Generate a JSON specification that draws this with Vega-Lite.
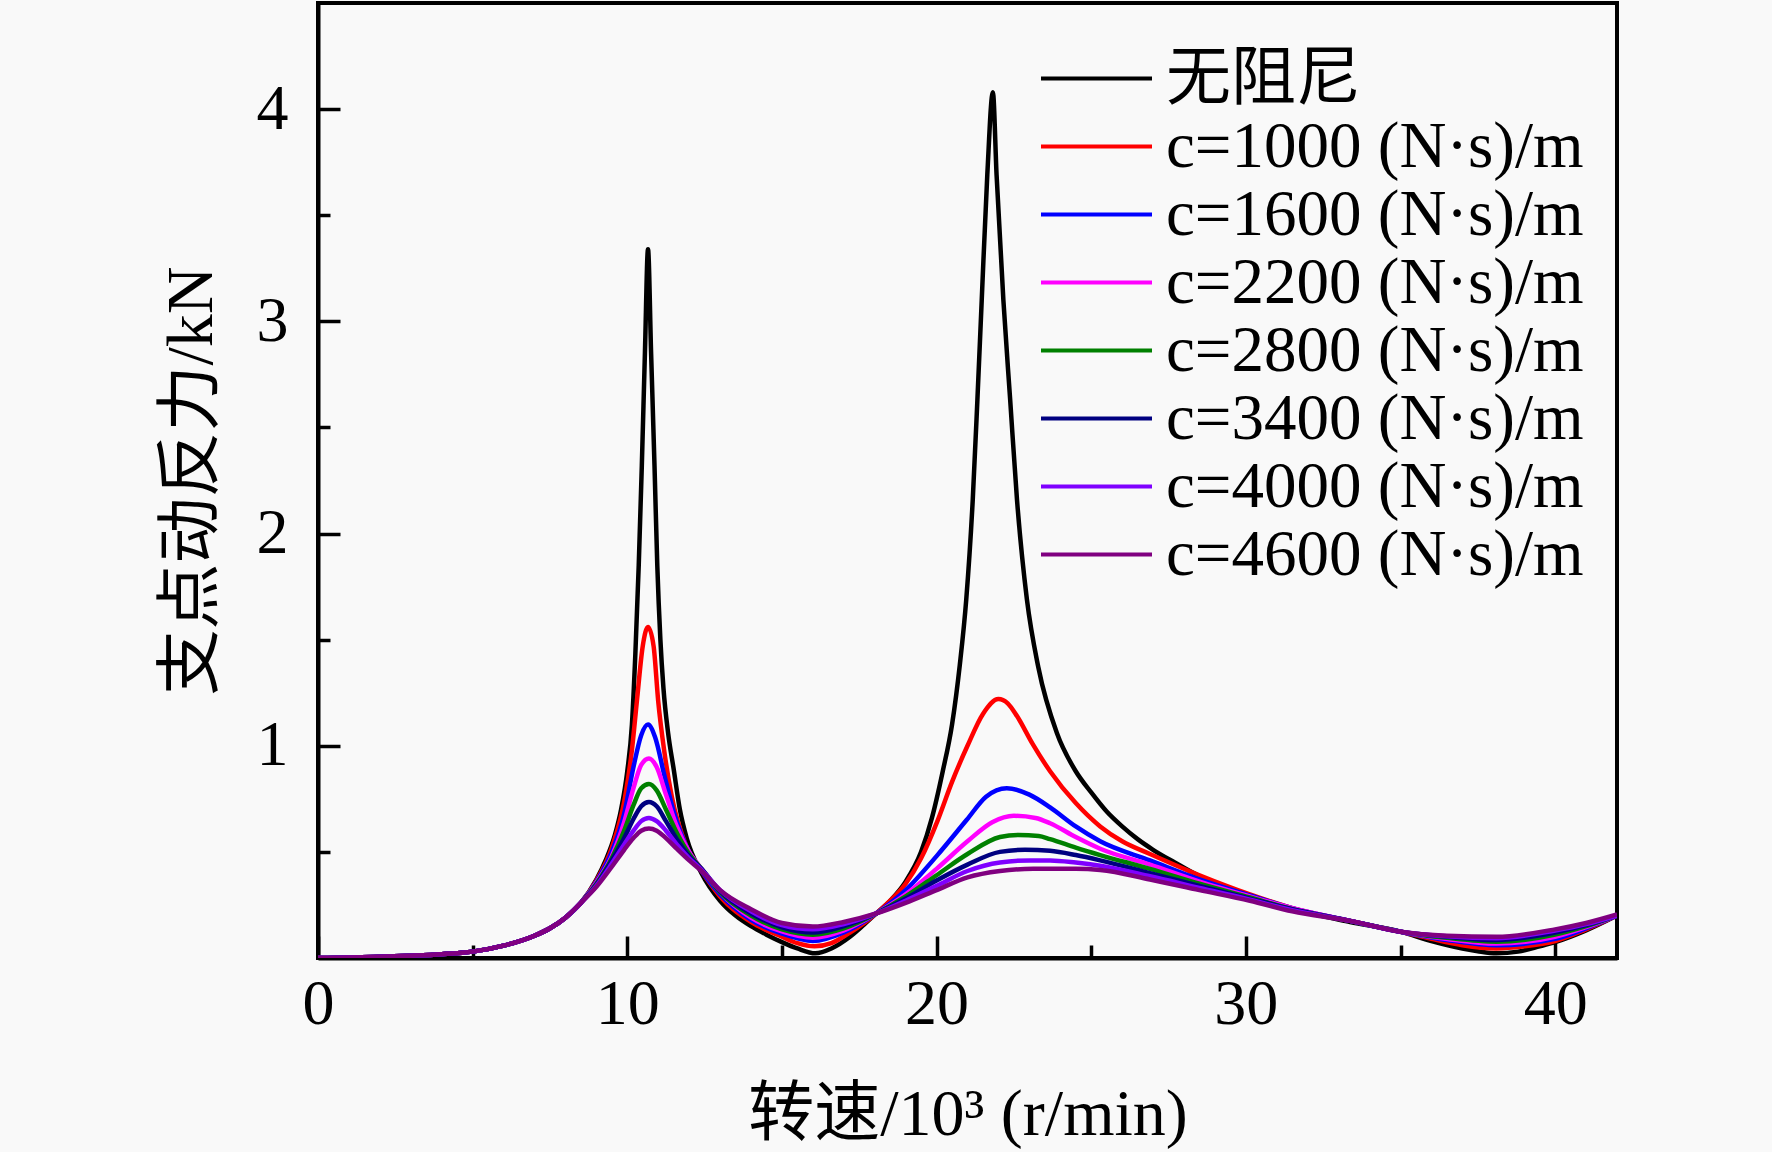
{
  "$schema": "https://vega.github.io/schema/vega-lite/v6.json",
  "width": 1299,
  "height": 955,
  "autosize": {"type": "none"},
  "padding": {"left": 318, "top": 3, "right": 155, "bottom": 194},
  "background": "#f9f9f9",
  "config": {
    "view": {"stroke": "black", "strokeWidth": 4},
    "axis": {
      "grid": false,
      "domainColor": "black",
      "domainWidth": 4,
      "tickColor": "black",
      "tickWidth": 3.5,
      "labelColor": "black",
      "labelFont": "Liberation Serif",
      "labelFontSize": 64,
      "labelFlush": false,
      "titleColor": "black",
      "titleFont": "Liberation Serif, Noto Sans CJK SC",
      "titleFontSize": 66,
      "titleFontWeight": "normal"
    }
  },
  "data": {"values": [
    {"s": "无阻尼", "x": 0, "y": 0}, {"s": "无阻尼", "x": 1, "y": 0.002}, {"s": "无阻尼", "x": 2, "y": 0.006}, {"s": "无阻尼", "x": 3, "y": 0.011}, {"s": "无阻尼", "x": 4, "y": 0.018}, {"s": "无阻尼", "x": 5, "y": 0.03}, {"s": "无阻尼", "x": 6, "y": 0.058}, {"s": "无阻尼", "x": 7, "y": 0.105}, {"s": "无阻尼", "x": 7.5, "y": 0.14}, {"s": "无阻尼", "x": 8, "y": 0.19}, {"s": "无阻尼", "x": 8.5, "y": 0.26},
    {"s": "无阻尼", "x": 9, "y": 0.37}, {"s": "无阻尼", "x": 9.3, "y": 0.46}, {"s": "无阻尼", "x": 9.6, "y": 0.58}, {"s": "无阻尼", "x": 9.8, "y": 0.7}, {"s": "无阻尼", "x": 10, "y": 0.88}, {"s": "无阻尼", "x": 10.15, "y": 1.1}, {"s": "无阻尼", "x": 10.26, "y": 1.43}, {"s": "无阻尼", "x": 10.37, "y": 1.85}, {"s": "无阻尼", "x": 10.47, "y": 2.32}, {"s": "无阻尼", "x": 10.57, "y": 2.85}, {"s": "无阻尼", "x": 10.67, "y": 3.34}, {"s": "无阻尼", "x": 10.77, "y": 2.85}, {"s": "无阻尼", "x": 10.88, "y": 2.32}, {"s": "无阻尼", "x": 10.97, "y": 1.85}, {"s": "无阻尼", "x": 11.07, "y": 1.5}, {"s": "无阻尼", "x": 11.17, "y": 1.27}, {"s": "无阻尼", "x": 11.32, "y": 1.06}, {"s": "无阻尼", "x": 11.5, "y": 0.89}, {"s": "无阻尼", "x": 11.7, "y": 0.7}, {"s": "无阻尼", "x": 11.93, "y": 0.56}, {"s": "无阻尼", "x": 12.4, "y": 0.4}, {"s": "无阻尼", "x": 13, "y": 0.27}, {"s": "无阻尼", "x": 13.5, "y": 0.2}, {"s": "无阻尼", "x": 14, "y": 0.15}, {"s": "无阻尼", "x": 14.5, "y": 0.11}, {"s": "无阻尼", "x": 15, "y": 0.075}, {"s": "无阻尼", "x": 15.5, "y": 0.045}, {"s": "无阻尼", "x": 16.08, "y": 0.022}, {"s": "无阻尼", "x": 16.6, "y": 0.045}, {"s": "无阻尼", "x": 17.2, "y": 0.1}, {"s": "无阻尼", "x": 17.6, "y": 0.15}, {"s": "无阻尼", "x": 18.05, "y": 0.21}, {"s": "无阻尼", "x": 18.5, "y": 0.27}, {"s": "无阻尼", "x": 19, "y": 0.36}, {"s": "无阻尼", "x": 19.5, "y": 0.5}, {"s": "无阻尼", "x": 19.85, "y": 0.66}, {"s": "无阻尼", "x": 20.2, "y": 0.88}, {"s": "无阻尼", "x": 20.5, "y": 1.1}, {"s": "无阻尼", "x": 20.75, "y": 1.38}, {"s": "无阻尼", "x": 20.96, "y": 1.69}, {"s": "无阻尼", "x": 21.17, "y": 2.16}, {"s": "无阻尼", "x": 21.32, "y": 2.63}, {"s": "无阻尼", "x": 21.46, "y": 3.1}, {"s": "无阻尼", "x": 21.64, "y": 3.69}, {"s": "无阻尼", "x": 21.82, "y": 4.08}, {"s": "无阻尼", "x": 21.94, "y": 3.69}, {"s": "无阻尼", "x": 22.16, "y": 3.1}, {"s": "无阻尼", "x": 22.38, "y": 2.63}, {"s": "无阻尼", "x": 22.6, "y": 2.16}, {"s": "无阻尼", "x": 22.92, "y": 1.69}, {"s": "无阻尼", "x": 23.29, "y": 1.37}, {"s": "无阻尼", "x": 23.89, "y": 1.06}, {"s": "无阻尼", "x": 24.5, "y": 0.88}, {"s": "无阻尼", "x": 25, "y": 0.78}, {"s": "无阻尼", "x": 25.5, "y": 0.69}, {"s": "无阻尼", "x": 26, "y": 0.62}, {"s": "无阻尼", "x": 26.5, "y": 0.56}, {"s": "无阻尼", "x": 27, "y": 0.51}, {"s": "无阻尼", "x": 27.7, "y": 0.45}, {"s": "无阻尼", "x": 28.5, "y": 0.385}, {"s": "无阻尼", "x": 30.13, "y": 0.29}, {"s": "无阻尼", "x": 31.5, "y": 0.23}, {"s": "无阻尼", "x": 33.37, "y": 0.17}, {"s": "无阻尼", "x": 35, "y": 0.124}, {"s": "无阻尼", "x": 36, "y": 0.08}, {"s": "无阻尼", "x": 37, "y": 0.045}, {"s": "无阻尼", "x": 37.5, "y": 0.032}, {"s": "无阻尼", "x": 38.1, "y": 0.022}, {"s": "无阻尼", "x": 38.8, "y": 0.03}, {"s": "无阻尼", "x": 39.5, "y": 0.055}, {"s": "无阻尼", "x": 40, "y": 0.075}, {"s": "无阻尼", "x": 41, "y": 0.13}, {"s": "无阻尼", "x": 42, "y": 0.2},

    {"s": "c=1000 (N·s)/m", "x": 0, "y": 0}, {"s": "c=1000 (N·s)/m", "x": 1, "y": 0.002}, {"s": "c=1000 (N·s)/m", "x": 2, "y": 0.006}, {"s": "c=1000 (N·s)/m", "x": 3, "y": 0.011}, {"s": "c=1000 (N·s)/m", "x": 4, "y": 0.018}, {"s": "c=1000 (N·s)/m", "x": 5, "y": 0.03}, {"s": "c=1000 (N·s)/m", "x": 6, "y": 0.058}, {"s": "c=1000 (N·s)/m", "x": 7, "y": 0.105}, {"s": "c=1000 (N·s)/m", "x": 7.5, "y": 0.14}, {"s": "c=1000 (N·s)/m", "x": 8, "y": 0.19}, {"s": "c=1000 (N·s)/m", "x": 8.5, "y": 0.26},
    {"s": "c=1000 (N·s)/m", "x": 9, "y": 0.365}, {"s": "c=1000 (N·s)/m", "x": 9.5, "y": 0.52}, {"s": "c=1000 (N·s)/m", "x": 9.93, "y": 0.76}, {"s": "c=1000 (N·s)/m", "x": 10.15, "y": 0.98}, {"s": "c=1000 (N·s)/m", "x": 10.31, "y": 1.21}, {"s": "c=1000 (N·s)/m", "x": 10.5, "y": 1.47}, {"s": "c=1000 (N·s)/m", "x": 10.67, "y": 1.56}, {"s": "c=1000 (N·s)/m", "x": 10.85, "y": 1.47}, {"s": "c=1000 (N·s)/m", "x": 11, "y": 1.21}, {"s": "c=1000 (N·s)/m", "x": 11.2, "y": 0.97}, {"s": "c=1000 (N·s)/m", "x": 11.44, "y": 0.76}, {"s": "c=1000 (N·s)/m", "x": 11.9, "y": 0.53}, {"s": "c=1000 (N·s)/m", "x": 12.4, "y": 0.41}, {"s": "c=1000 (N·s)/m", "x": 13, "y": 0.29}, {"s": "c=1000 (N·s)/m", "x": 14, "y": 0.17}, {"s": "c=1000 (N·s)/m", "x": 15, "y": 0.1}, {"s": "c=1000 (N·s)/m", "x": 15.5, "y": 0.07}, {"s": "c=1000 (N·s)/m", "x": 16.05, "y": 0.055}, {"s": "c=1000 (N·s)/m", "x": 16.6, "y": 0.07}, {"s": "c=1000 (N·s)/m", "x": 17.2, "y": 0.12}, {"s": "c=1000 (N·s)/m", "x": 18.05, "y": 0.21}, {"s": "c=1000 (N·s)/m", "x": 18.5, "y": 0.27}, {"s": "c=1000 (N·s)/m", "x": 19, "y": 0.35}, {"s": "c=1000 (N·s)/m", "x": 19.5, "y": 0.47}, {"s": "c=1000 (N·s)/m", "x": 20.04, "y": 0.65}, {"s": "c=1000 (N·s)/m", "x": 20.5, "y": 0.83}, {"s": "c=1000 (N·s)/m", "x": 21, "y": 1.0}, {"s": "c=1000 (N·s)/m", "x": 21.5, "y": 1.15}, {"s": "c=1000 (N·s)/m", "x": 22, "y": 1.22}, {"s": "c=1000 (N·s)/m", "x": 22.3, "y": 1.2}, {"s": "c=1000 (N·s)/m", "x": 22.6, "y": 1.14}, {"s": "c=1000 (N·s)/m", "x": 23.1, "y": 1.01}, {"s": "c=1000 (N·s)/m", "x": 23.67, "y": 0.88}, {"s": "c=1000 (N·s)/m", "x": 24.5, "y": 0.73}, {"s": "c=1000 (N·s)/m", "x": 25.29, "y": 0.62}, {"s": "c=1000 (N·s)/m", "x": 26, "y": 0.55}, {"s": "c=1000 (N·s)/m", "x": 26.9, "y": 0.49}, {"s": "c=1000 (N·s)/m", "x": 28.5, "y": 0.39}, {"s": "c=1000 (N·s)/m", "x": 30.13, "y": 0.3}, {"s": "c=1000 (N·s)/m", "x": 31.5, "y": 0.235}, {"s": "c=1000 (N·s)/m", "x": 33.37, "y": 0.175}, {"s": "c=1000 (N·s)/m", "x": 35, "y": 0.124}, {"s": "c=1000 (N·s)/m", "x": 36, "y": 0.09}, {"s": "c=1000 (N·s)/m", "x": 37, "y": 0.06}, {"s": "c=1000 (N·s)/m", "x": 38.1, "y": 0.045}, {"s": "c=1000 (N·s)/m", "x": 39, "y": 0.055}, {"s": "c=1000 (N·s)/m", "x": 40, "y": 0.08}, {"s": "c=1000 (N·s)/m", "x": 41, "y": 0.135}, {"s": "c=1000 (N·s)/m", "x": 42, "y": 0.2},

    {"s": "c=1600 (N·s)/m", "x": 0, "y": 0}, {"s": "c=1600 (N·s)/m", "x": 1, "y": 0.002}, {"s": "c=1600 (N·s)/m", "x": 2, "y": 0.006}, {"s": "c=1600 (N·s)/m", "x": 3, "y": 0.011}, {"s": "c=1600 (N·s)/m", "x": 4, "y": 0.018}, {"s": "c=1600 (N·s)/m", "x": 5, "y": 0.03}, {"s": "c=1600 (N·s)/m", "x": 6, "y": 0.058}, {"s": "c=1600 (N·s)/m", "x": 7, "y": 0.105}, {"s": "c=1600 (N·s)/m", "x": 7.5, "y": 0.14}, {"s": "c=1600 (N·s)/m", "x": 8, "y": 0.19}, {"s": "c=1600 (N·s)/m", "x": 8.5, "y": 0.26},
    {"s": "c=1600 (N·s)/m", "x": 9, "y": 0.36}, {"s": "c=1600 (N·s)/m", "x": 9.5, "y": 0.5}, {"s": "c=1600 (N·s)/m", "x": 9.9, "y": 0.68}, {"s": "c=1600 (N·s)/m", "x": 10.2, "y": 0.9}, {"s": "c=1600 (N·s)/m", "x": 10.45, "y": 1.05}, {"s": "c=1600 (N·s)/m", "x": 10.67, "y": 1.1}, {"s": "c=1600 (N·s)/m", "x": 10.9, "y": 1.04}, {"s": "c=1600 (N·s)/m", "x": 11.2, "y": 0.86}, {"s": "c=1600 (N·s)/m", "x": 11.5, "y": 0.69}, {"s": "c=1600 (N·s)/m", "x": 12, "y": 0.5}, {"s": "c=1600 (N·s)/m", "x": 12.4, "y": 0.41}, {"s": "c=1600 (N·s)/m", "x": 13, "y": 0.3}, {"s": "c=1600 (N·s)/m", "x": 14, "y": 0.18}, {"s": "c=1600 (N·s)/m", "x": 15, "y": 0.115}, {"s": "c=1600 (N·s)/m", "x": 16, "y": 0.08}, {"s": "c=1600 (N·s)/m", "x": 17, "y": 0.12}, {"s": "c=1600 (N·s)/m", "x": 18.05, "y": 0.21}, {"s": "c=1600 (N·s)/m", "x": 19, "y": 0.32}, {"s": "c=1600 (N·s)/m", "x": 20, "y": 0.48}, {"s": "c=1600 (N·s)/m", "x": 20.97, "y": 0.65}, {"s": "c=1600 (N·s)/m", "x": 21.6, "y": 0.76}, {"s": "c=1600 (N·s)/m", "x": 22.27, "y": 0.8}, {"s": "c=1600 (N·s)/m", "x": 23, "y": 0.77}, {"s": "c=1600 (N·s)/m", "x": 23.67, "y": 0.71}, {"s": "c=1600 (N·s)/m", "x": 24.5, "y": 0.62}, {"s": "c=1600 (N·s)/m", "x": 25.29, "y": 0.55}, {"s": "c=1600 (N·s)/m", "x": 26.9, "y": 0.46}, {"s": "c=1600 (N·s)/m", "x": 28.5, "y": 0.37}, {"s": "c=1600 (N·s)/m", "x": 30.13, "y": 0.295}, {"s": "c=1600 (N·s)/m", "x": 31.5, "y": 0.235}, {"s": "c=1600 (N·s)/m", "x": 33.37, "y": 0.175}, {"s": "c=1600 (N·s)/m", "x": 35, "y": 0.124}, {"s": "c=1600 (N·s)/m", "x": 36.5, "y": 0.085}, {"s": "c=1600 (N·s)/m", "x": 38.1, "y": 0.06}, {"s": "c=1600 (N·s)/m", "x": 40, "y": 0.09}, {"s": "c=1600 (N·s)/m", "x": 41, "y": 0.14}, {"s": "c=1600 (N·s)/m", "x": 42, "y": 0.2},

    {"s": "c=2200 (N·s)/m", "x": 0, "y": 0}, {"s": "c=2200 (N·s)/m", "x": 1, "y": 0.002}, {"s": "c=2200 (N·s)/m", "x": 2, "y": 0.006}, {"s": "c=2200 (N·s)/m", "x": 3, "y": 0.011}, {"s": "c=2200 (N·s)/m", "x": 4, "y": 0.018}, {"s": "c=2200 (N·s)/m", "x": 5, "y": 0.03}, {"s": "c=2200 (N·s)/m", "x": 6, "y": 0.058}, {"s": "c=2200 (N·s)/m", "x": 7, "y": 0.105}, {"s": "c=2200 (N·s)/m", "x": 7.5, "y": 0.14}, {"s": "c=2200 (N·s)/m", "x": 8, "y": 0.19}, {"s": "c=2200 (N·s)/m", "x": 8.5, "y": 0.26},
    {"s": "c=2200 (N·s)/m", "x": 9, "y": 0.355}, {"s": "c=2200 (N·s)/m", "x": 9.5, "y": 0.48}, {"s": "c=2200 (N·s)/m", "x": 9.9, "y": 0.64}, {"s": "c=2200 (N·s)/m", "x": 10.2, "y": 0.8}, {"s": "c=2200 (N·s)/m", "x": 10.45, "y": 0.91}, {"s": "c=2200 (N·s)/m", "x": 10.7, "y": 0.94}, {"s": "c=2200 (N·s)/m", "x": 10.95, "y": 0.9}, {"s": "c=2200 (N·s)/m", "x": 11.25, "y": 0.77}, {"s": "c=2200 (N·s)/m", "x": 11.6, "y": 0.62}, {"s": "c=2200 (N·s)/m", "x": 12, "y": 0.5}, {"s": "c=2200 (N·s)/m", "x": 12.4, "y": 0.42}, {"s": "c=2200 (N·s)/m", "x": 13, "y": 0.31}, {"s": "c=2200 (N·s)/m", "x": 14, "y": 0.19}, {"s": "c=2200 (N·s)/m", "x": 15, "y": 0.125}, {"s": "c=2200 (N·s)/m", "x": 16, "y": 0.095}, {"s": "c=2200 (N·s)/m", "x": 17, "y": 0.13}, {"s": "c=2200 (N·s)/m", "x": 18.05, "y": 0.21}, {"s": "c=2200 (N·s)/m", "x": 19, "y": 0.3}, {"s": "c=2200 (N·s)/m", "x": 20, "y": 0.42}, {"s": "c=2200 (N·s)/m", "x": 21, "y": 0.55}, {"s": "c=2200 (N·s)/m", "x": 21.8, "y": 0.64}, {"s": "c=2200 (N·s)/m", "x": 22.5, "y": 0.67}, {"s": "c=2200 (N·s)/m", "x": 23.2, "y": 0.66}, {"s": "c=2200 (N·s)/m", "x": 23.67, "y": 0.635}, {"s": "c=2200 (N·s)/m", "x": 24.5, "y": 0.57}, {"s": "c=2200 (N·s)/m", "x": 25.29, "y": 0.515}, {"s": "c=2200 (N·s)/m", "x": 26.9, "y": 0.44}, {"s": "c=2200 (N·s)/m", "x": 28.5, "y": 0.36}, {"s": "c=2200 (N·s)/m", "x": 30.13, "y": 0.29}, {"s": "c=2200 (N·s)/m", "x": 31.5, "y": 0.235}, {"s": "c=2200 (N·s)/m", "x": 33.37, "y": 0.175}, {"s": "c=2200 (N·s)/m", "x": 35, "y": 0.124}, {"s": "c=2200 (N·s)/m", "x": 36.5, "y": 0.09}, {"s": "c=2200 (N·s)/m", "x": 38.1, "y": 0.068}, {"s": "c=2200 (N·s)/m", "x": 40, "y": 0.1}, {"s": "c=2200 (N·s)/m", "x": 41, "y": 0.145}, {"s": "c=2200 (N·s)/m", "x": 42, "y": 0.2},

    {"s": "c=2800 (N·s)/m", "x": 0, "y": 0}, {"s": "c=2800 (N·s)/m", "x": 1, "y": 0.002}, {"s": "c=2800 (N·s)/m", "x": 2, "y": 0.006}, {"s": "c=2800 (N·s)/m", "x": 3, "y": 0.011}, {"s": "c=2800 (N·s)/m", "x": 4, "y": 0.018}, {"s": "c=2800 (N·s)/m", "x": 5, "y": 0.03}, {"s": "c=2800 (N·s)/m", "x": 6, "y": 0.058}, {"s": "c=2800 (N·s)/m", "x": 7, "y": 0.105}, {"s": "c=2800 (N·s)/m", "x": 7.5, "y": 0.14}, {"s": "c=2800 (N·s)/m", "x": 8, "y": 0.19}, {"s": "c=2800 (N·s)/m", "x": 8.5, "y": 0.26},
    {"s": "c=2800 (N·s)/m", "x": 9, "y": 0.35}, {"s": "c=2800 (N·s)/m", "x": 9.5, "y": 0.47}, {"s": "c=2800 (N·s)/m", "x": 9.9, "y": 0.6}, {"s": "c=2800 (N·s)/m", "x": 10.2, "y": 0.72}, {"s": "c=2800 (N·s)/m", "x": 10.45, "y": 0.8}, {"s": "c=2800 (N·s)/m", "x": 10.7, "y": 0.82}, {"s": "c=2800 (N·s)/m", "x": 10.95, "y": 0.79}, {"s": "c=2800 (N·s)/m", "x": 11.25, "y": 0.7}, {"s": "c=2800 (N·s)/m", "x": 11.6, "y": 0.59}, {"s": "c=2800 (N·s)/m", "x": 12, "y": 0.49}, {"s": "c=2800 (N·s)/m", "x": 12.4, "y": 0.42}, {"s": "c=2800 (N·s)/m", "x": 13, "y": 0.31}, {"s": "c=2800 (N·s)/m", "x": 14, "y": 0.2}, {"s": "c=2800 (N·s)/m", "x": 15, "y": 0.135}, {"s": "c=2800 (N·s)/m", "x": 16, "y": 0.11}, {"s": "c=2800 (N·s)/m", "x": 17, "y": 0.14}, {"s": "c=2800 (N·s)/m", "x": 18.05, "y": 0.21}, {"s": "c=2800 (N·s)/m", "x": 19, "y": 0.29}, {"s": "c=2800 (N·s)/m", "x": 20, "y": 0.39}, {"s": "c=2800 (N·s)/m", "x": 21, "y": 0.49}, {"s": "c=2800 (N·s)/m", "x": 22.05, "y": 0.57}, {"s": "c=2800 (N·s)/m", "x": 22.65, "y": 0.58}, {"s": "c=2800 (N·s)/m", "x": 23.3, "y": 0.575}, {"s": "c=2800 (N·s)/m", "x": 23.67, "y": 0.56}, {"s": "c=2800 (N·s)/m", "x": 24.5, "y": 0.52}, {"s": "c=2800 (N·s)/m", "x": 25.29, "y": 0.485}, {"s": "c=2800 (N·s)/m", "x": 26.9, "y": 0.42}, {"s": "c=2800 (N·s)/m", "x": 28.5, "y": 0.35}, {"s": "c=2800 (N·s)/m", "x": 30.13, "y": 0.285}, {"s": "c=2800 (N·s)/m", "x": 31.5, "y": 0.23}, {"s": "c=2800 (N·s)/m", "x": 33.37, "y": 0.175}, {"s": "c=2800 (N·s)/m", "x": 35, "y": 0.124}, {"s": "c=2800 (N·s)/m", "x": 36.5, "y": 0.095}, {"s": "c=2800 (N·s)/m", "x": 38.1, "y": 0.077}, {"s": "c=2800 (N·s)/m", "x": 40, "y": 0.11}, {"s": "c=2800 (N·s)/m", "x": 41, "y": 0.15}, {"s": "c=2800 (N·s)/m", "x": 42, "y": 0.2},

    {"s": "c=3400 (N·s)/m", "x": 0, "y": 0}, {"s": "c=3400 (N·s)/m", "x": 1, "y": 0.002}, {"s": "c=3400 (N·s)/m", "x": 2, "y": 0.006}, {"s": "c=3400 (N·s)/m", "x": 3, "y": 0.011}, {"s": "c=3400 (N·s)/m", "x": 4, "y": 0.018}, {"s": "c=3400 (N·s)/m", "x": 5, "y": 0.03}, {"s": "c=3400 (N·s)/m", "x": 6, "y": 0.058}, {"s": "c=3400 (N·s)/m", "x": 7, "y": 0.105}, {"s": "c=3400 (N·s)/m", "x": 7.5, "y": 0.14}, {"s": "c=3400 (N·s)/m", "x": 8, "y": 0.19}, {"s": "c=3400 (N·s)/m", "x": 8.5, "y": 0.26},
    {"s": "c=3400 (N·s)/m", "x": 9, "y": 0.345}, {"s": "c=3400 (N·s)/m", "x": 9.5, "y": 0.46}, {"s": "c=3400 (N·s)/m", "x": 9.9, "y": 0.565}, {"s": "c=3400 (N·s)/m", "x": 10.2, "y": 0.655}, {"s": "c=3400 (N·s)/m", "x": 10.45, "y": 0.715}, {"s": "c=3400 (N·s)/m", "x": 10.7, "y": 0.735}, {"s": "c=3400 (N·s)/m", "x": 10.95, "y": 0.715}, {"s": "c=3400 (N·s)/m", "x": 11.25, "y": 0.645}, {"s": "c=3400 (N·s)/m", "x": 11.6, "y": 0.56}, {"s": "c=3400 (N·s)/m", "x": 12, "y": 0.48}, {"s": "c=3400 (N·s)/m", "x": 12.4, "y": 0.42}, {"s": "c=3400 (N·s)/m", "x": 13, "y": 0.315}, {"s": "c=3400 (N·s)/m", "x": 14, "y": 0.21}, {"s": "c=3400 (N·s)/m", "x": 15, "y": 0.145}, {"s": "c=3400 (N·s)/m", "x": 16, "y": 0.12}, {"s": "c=3400 (N·s)/m", "x": 17, "y": 0.15}, {"s": "c=3400 (N·s)/m", "x": 18.05, "y": 0.21}, {"s": "c=3400 (N·s)/m", "x": 19, "y": 0.28}, {"s": "c=3400 (N·s)/m", "x": 20, "y": 0.365}, {"s": "c=3400 (N·s)/m", "x": 21, "y": 0.44}, {"s": "c=3400 (N·s)/m", "x": 22.05, "y": 0.5}, {"s": "c=3400 (N·s)/m", "x": 22.86, "y": 0.51}, {"s": "c=3400 (N·s)/m", "x": 23.67, "y": 0.505}, {"s": "c=3400 (N·s)/m", "x": 24.5, "y": 0.485}, {"s": "c=3400 (N·s)/m", "x": 25.29, "y": 0.46}, {"s": "c=3400 (N·s)/m", "x": 26.9, "y": 0.4}, {"s": "c=3400 (N·s)/m", "x": 28.5, "y": 0.34}, {"s": "c=3400 (N·s)/m", "x": 30.13, "y": 0.28}, {"s": "c=3400 (N·s)/m", "x": 31.5, "y": 0.23}, {"s": "c=3400 (N·s)/m", "x": 33.37, "y": 0.175}, {"s": "c=3400 (N·s)/m", "x": 35, "y": 0.124}, {"s": "c=3400 (N·s)/m", "x": 36.5, "y": 0.1}, {"s": "c=3400 (N·s)/m", "x": 38.1, "y": 0.085}, {"s": "c=3400 (N·s)/m", "x": 40, "y": 0.12}, {"s": "c=3400 (N·s)/m", "x": 41, "y": 0.155}, {"s": "c=3400 (N·s)/m", "x": 42, "y": 0.2},

    {"s": "c=4000 (N·s)/m", "x": 0, "y": 0}, {"s": "c=4000 (N·s)/m", "x": 1, "y": 0.002}, {"s": "c=4000 (N·s)/m", "x": 2, "y": 0.006}, {"s": "c=4000 (N·s)/m", "x": 3, "y": 0.011}, {"s": "c=4000 (N·s)/m", "x": 4, "y": 0.018}, {"s": "c=4000 (N·s)/m", "x": 5, "y": 0.03}, {"s": "c=4000 (N·s)/m", "x": 6, "y": 0.058}, {"s": "c=4000 (N·s)/m", "x": 7, "y": 0.105}, {"s": "c=4000 (N·s)/m", "x": 7.5, "y": 0.14}, {"s": "c=4000 (N·s)/m", "x": 8, "y": 0.19}, {"s": "c=4000 (N·s)/m", "x": 8.5, "y": 0.26},
    {"s": "c=4000 (N·s)/m", "x": 9, "y": 0.34}, {"s": "c=4000 (N·s)/m", "x": 9.5, "y": 0.445}, {"s": "c=4000 (N·s)/m", "x": 9.9, "y": 0.535}, {"s": "c=4000 (N·s)/m", "x": 10.2, "y": 0.6}, {"s": "c=4000 (N·s)/m", "x": 10.45, "y": 0.645}, {"s": "c=4000 (N·s)/m", "x": 10.7, "y": 0.66}, {"s": "c=4000 (N·s)/m", "x": 10.95, "y": 0.645}, {"s": "c=4000 (N·s)/m", "x": 11.25, "y": 0.6}, {"s": "c=4000 (N·s)/m", "x": 11.6, "y": 0.535}, {"s": "c=4000 (N·s)/m", "x": 12, "y": 0.47}, {"s": "c=4000 (N·s)/m", "x": 12.4, "y": 0.415}, {"s": "c=4000 (N·s)/m", "x": 13, "y": 0.32}, {"s": "c=4000 (N·s)/m", "x": 14, "y": 0.22}, {"s": "c=4000 (N·s)/m", "x": 15, "y": 0.155}, {"s": "c=4000 (N·s)/m", "x": 16, "y": 0.135}, {"s": "c=4000 (N·s)/m", "x": 17, "y": 0.16}, {"s": "c=4000 (N·s)/m", "x": 18.05, "y": 0.21}, {"s": "c=4000 (N·s)/m", "x": 19, "y": 0.27}, {"s": "c=4000 (N·s)/m", "x": 20, "y": 0.34}, {"s": "c=4000 (N·s)/m", "x": 21, "y": 0.41}, {"s": "c=4000 (N·s)/m", "x": 22.05, "y": 0.45}, {"s": "c=4000 (N·s)/m", "x": 23.03, "y": 0.46}, {"s": "c=4000 (N·s)/m", "x": 23.67, "y": 0.46}, {"s": "c=4000 (N·s)/m", "x": 24.5, "y": 0.45}, {"s": "c=4000 (N·s)/m", "x": 25.29, "y": 0.435}, {"s": "c=4000 (N·s)/m", "x": 26.9, "y": 0.385}, {"s": "c=4000 (N·s)/m", "x": 28.5, "y": 0.33}, {"s": "c=4000 (N·s)/m", "x": 30.13, "y": 0.275}, {"s": "c=4000 (N·s)/m", "x": 31.5, "y": 0.225}, {"s": "c=4000 (N·s)/m", "x": 33.37, "y": 0.175}, {"s": "c=4000 (N·s)/m", "x": 35, "y": 0.124}, {"s": "c=4000 (N·s)/m", "x": 36.5, "y": 0.102}, {"s": "c=4000 (N·s)/m", "x": 38.1, "y": 0.093}, {"s": "c=4000 (N·s)/m", "x": 40, "y": 0.13}, {"s": "c=4000 (N·s)/m", "x": 41, "y": 0.16}, {"s": "c=4000 (N·s)/m", "x": 42, "y": 0.2},

    {"s": "c=4600 (N·s)/m", "x": 0, "y": 0}, {"s": "c=4600 (N·s)/m", "x": 1, "y": 0.002}, {"s": "c=4600 (N·s)/m", "x": 2, "y": 0.006}, {"s": "c=4600 (N·s)/m", "x": 3, "y": 0.011}, {"s": "c=4600 (N·s)/m", "x": 4, "y": 0.018}, {"s": "c=4600 (N·s)/m", "x": 5, "y": 0.03}, {"s": "c=4600 (N·s)/m", "x": 6, "y": 0.058}, {"s": "c=4600 (N·s)/m", "x": 7, "y": 0.105}, {"s": "c=4600 (N·s)/m", "x": 7.5, "y": 0.14}, {"s": "c=4600 (N·s)/m", "x": 8, "y": 0.19}, {"s": "c=4600 (N·s)/m", "x": 8.5, "y": 0.26},
    {"s": "c=4600 (N·s)/m", "x": 9, "y": 0.335}, {"s": "c=4600 (N·s)/m", "x": 9.5, "y": 0.43}, {"s": "c=4600 (N·s)/m", "x": 9.9, "y": 0.51}, {"s": "c=4600 (N·s)/m", "x": 10.2, "y": 0.565}, {"s": "c=4600 (N·s)/m", "x": 10.45, "y": 0.6}, {"s": "c=4600 (N·s)/m", "x": 10.7, "y": 0.61}, {"s": "c=4600 (N·s)/m", "x": 10.95, "y": 0.6}, {"s": "c=4600 (N·s)/m", "x": 11.25, "y": 0.565}, {"s": "c=4600 (N·s)/m", "x": 11.6, "y": 0.515}, {"s": "c=4600 (N·s)/m", "x": 12, "y": 0.46}, {"s": "c=4600 (N·s)/m", "x": 12.4, "y": 0.41}, {"s": "c=4600 (N·s)/m", "x": 13, "y": 0.32}, {"s": "c=4600 (N·s)/m", "x": 14, "y": 0.23}, {"s": "c=4600 (N·s)/m", "x": 15, "y": 0.165}, {"s": "c=4600 (N·s)/m", "x": 16, "y": 0.148}, {"s": "c=4600 (N·s)/m", "x": 17, "y": 0.17}, {"s": "c=4600 (N·s)/m", "x": 18.05, "y": 0.21}, {"s": "c=4600 (N·s)/m", "x": 19, "y": 0.26}, {"s": "c=4600 (N·s)/m", "x": 20, "y": 0.32}, {"s": "c=4600 (N·s)/m", "x": 21, "y": 0.38}, {"s": "c=4600 (N·s)/m", "x": 22.05, "y": 0.41}, {"s": "c=4600 (N·s)/m", "x": 23.13, "y": 0.42}, {"s": "c=4600 (N·s)/m", "x": 23.67, "y": 0.42}, {"s": "c=4600 (N·s)/m", "x": 24.5, "y": 0.42}, {"s": "c=4600 (N·s)/m", "x": 25.29, "y": 0.415}, {"s": "c=4600 (N·s)/m", "x": 26.9, "y": 0.37}, {"s": "c=4600 (N·s)/m", "x": 28.5, "y": 0.32}, {"s": "c=4600 (N·s)/m", "x": 30.13, "y": 0.27}, {"s": "c=4600 (N·s)/m", "x": 31.5, "y": 0.22}, {"s": "c=4600 (N·s)/m", "x": 33.37, "y": 0.175}, {"s": "c=4600 (N·s)/m", "x": 35, "y": 0.124}, {"s": "c=4600 (N·s)/m", "x": 36.5, "y": 0.105}, {"s": "c=4600 (N·s)/m", "x": 38.1, "y": 0.1}, {"s": "c=4600 (N·s)/m", "x": 40, "y": 0.135}, {"s": "c=4600 (N·s)/m", "x": 41, "y": 0.165}, {"s": "c=4600 (N·s)/m", "x": 42, "y": 0.205}
  ]},
  "mark": {"type": "line", "strokeWidth": 4.5, "interpolate": "monotone", "clip": true},
  "encoding": {
    "x": {
      "field": "x",
      "type": "quantitative",
      "scale": {"domain": [0, 42], "nice": false, "zero": false},
      "axis": {
        "title": "转速/10³ (r/min)",
        "values": [0, 5, 10, 15, 20, 25, 30, 35, 40],
        "labelExpr": "datum.value % 10 === 0 ? datum.label : ''",
        "tickSize": {"condition": {"test": "datum.value % 10 === 0", "value": -22}, "value": -13},
        "labelPadding": 36,
        "titlePadding": 46
      }
    },
    "y": {
      "field": "y",
      "type": "quantitative",
      "scale": {"domain": [0, 4.5], "nice": false},
      "axis": {
        "title": "支点动反力/kN",
        "values": [0.5, 1, 1.5, 2, 2.5, 3, 3.5, 4],
        "labelExpr": "datum.value % 1 === 0 ? format(datum.value, 'd') : ''",
        "tickSize": {"condition": {"test": "datum.value % 1 === 0", "value": -22}, "value": -12},
        "labelPadding": 52,
        "titlePadding": 31
      }
    },
    "color": {
      "field": "s",
      "type": "nominal",
      "sort": null,
      "scale": {
        "domain": ["无阻尼", "c=1000 (N·s)/m", "c=1600 (N·s)/m", "c=2200 (N·s)/m", "c=2800 (N·s)/m", "c=3400 (N·s)/m", "c=4000 (N·s)/m", "c=4600 (N·s)/m"],
        "range": ["#000000", "#ff0000", "#0000ff", "#ff00ff", "#008000", "#000080", "#7f00ff", "#800080"]
      },
      "legend": {
        "title": null,
        "orient": "none",
        "legendX": 721,
        "legendY": 43,
        "padding": 0,
        "symbolType": "stroke",
        "symbolSize": 12321,
        "symbolStrokeWidth": 4,
        "labelFont": "Liberation Serif, Noto Sans CJK SC",
        "labelFontSize": 65,
        "labelColor": "black",
        "labelOffset": 12,
        "labelLimit": 0,
        "clipHeight": 65,
        "rowPadding": 2
      }
    }
  }
}
